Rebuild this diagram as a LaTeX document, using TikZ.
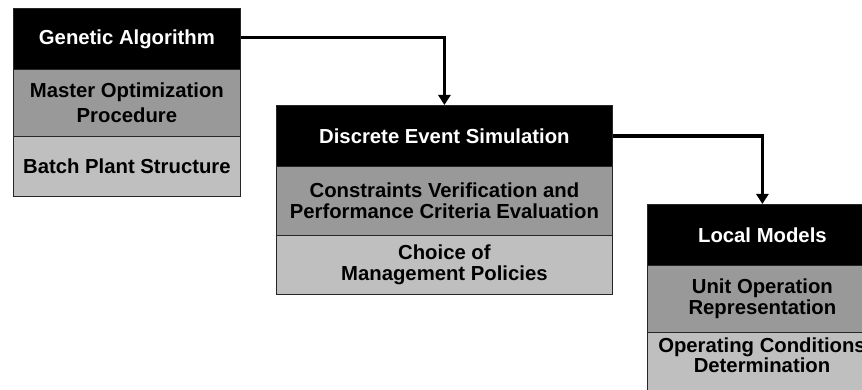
\documentclass[tikz,border=0pt]{standalone}
\usepackage{fontspec}
\setmainfont{Liberation Sans}
\usetikzlibrary{arrows.meta}
\begin{document}
\begin{tikzpicture}[x=1pt,y=-1pt,
 row/.style={draw=black!85, line width=0.8pt, anchor=north west, inner sep=0pt, align=center,
   font=\fontsize{20.3}{20.5}\selectfont\bfseries},
 head/.style={row, fill=black, text=white},
 mid/.style={row, fill=black!40},
 low/.style={row, fill=black!25},
 conn/.style={line width=3.4pt, -{Triangle[width=12pt,length=10pt]}}
]
\useasboundingbox (0,0) rectangle (862,390);
% Box 1
\node[head, minimum width=227pt, minimum height=61pt] (h1) at (13,8) {Genetic Algorithm};
\node[mid, minimum width=227pt, minimum height=67pt] (m1) at (13,69) {Master Optimization\\[5pt]Procedure};
\node[low, minimum width=227pt, minimum height=60pt] (l1) at (13,136) {Batch Plant Structure};
% Box 2
\node[head, minimum width=336pt, minimum height=61pt] (h2) at (276,105) {Discrete Event Simulation};
\node[mid, minimum width=336pt, minimum height=69pt] (m2) at (276,166) {Constraints Verification and\\Performance Criteria Evaluation};
\node[low, minimum width=336pt, minimum height=59pt] (l2) at (276,235) {Choice of\\Management Policies};
% Box 3
\node[head, minimum width=230pt, minimum height=61pt] (h3) at (647,204) {Local Models};
\node[mid, minimum width=230pt, minimum height=67pt] (m3) at (647,265) {Unit Operation\\Representation};
\node[low, minimum width=230pt, minimum height=70pt] (l3) at (647,332) {};
\node[align=center, inner sep=0pt, font=\fontsize{20.3}{20.5}\selectfont\bfseries] (t3) at (762,355) {Operating Conditions\\Determination};
% Connectors
\draw[conn] ([yshift=1.5pt]h1.east) -| (h2.north);
\draw[conn] (h2.east) -| (h3.north);
\end{tikzpicture}
\end{document}
